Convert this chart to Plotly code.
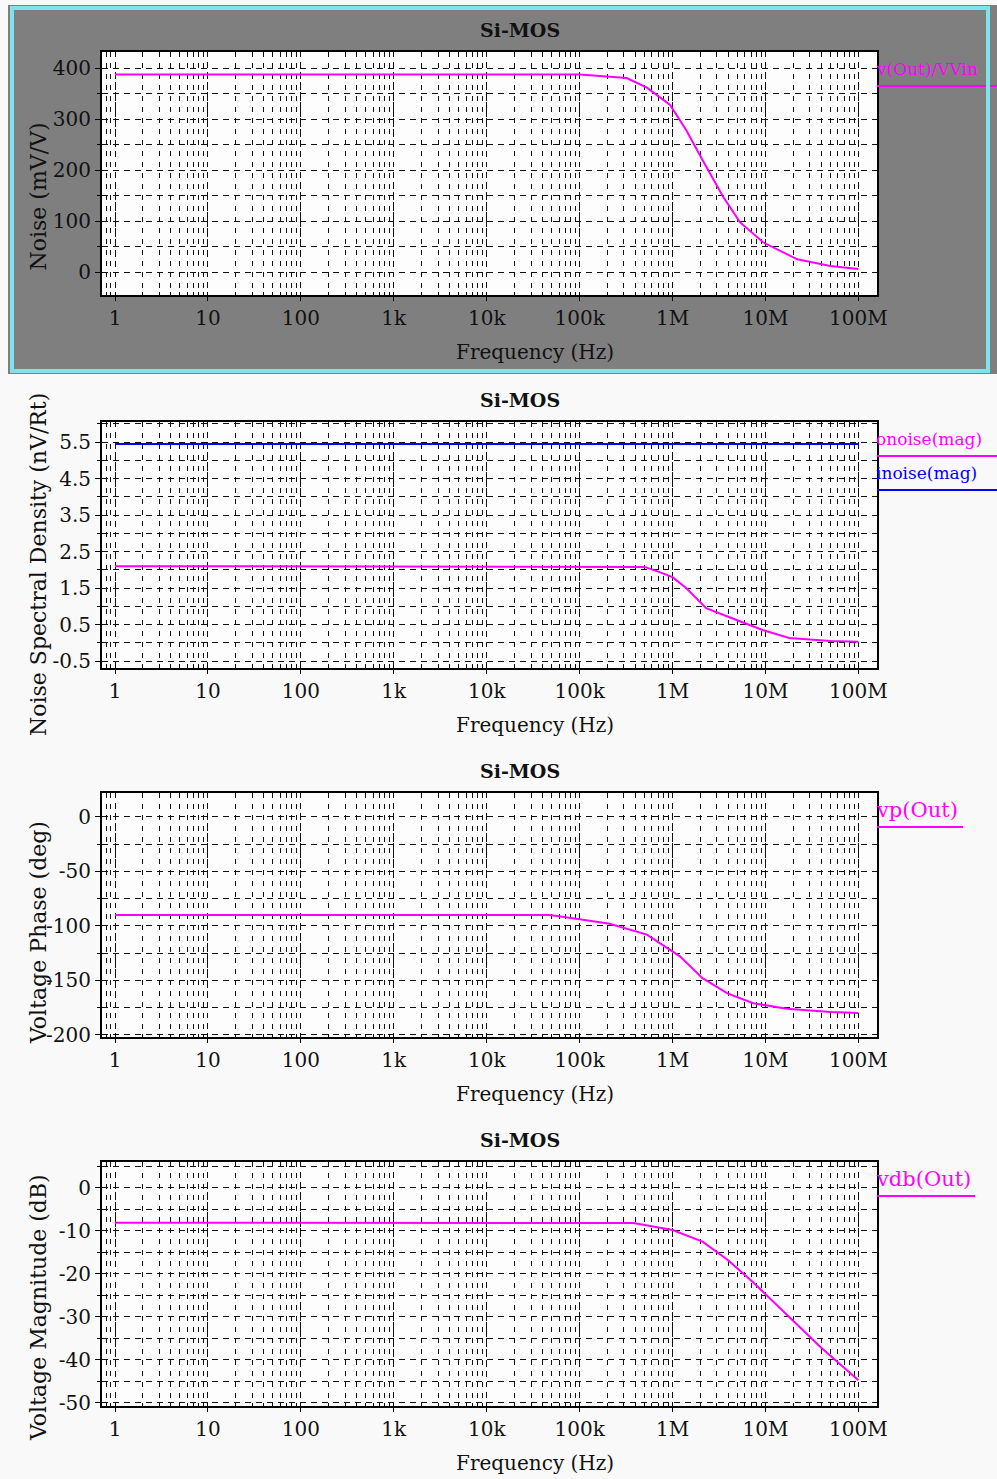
import plotly.graph_objects as go

# ---------------- data ----------------
freq_ticks = [1, 10, 100, 1e3, 1e4, 1e5, 1e6, 1e7, 1e8]
freq_labels = ["1", "10", "100", "1k", "10k", "100k", "1M", "10M", "100M"]

# Panel 1: Noise (mV/V)  v(Out)/VVin
noise_f = [1, 1e3, 1e5, 3.2e5, 5.3e5, 9.4e5, 1.4e6, 2.1e6, 3.5e6, 5.3e6, 9.5e6, 2.2e7, 5e7, 1e8]
noise_v = [388, 388, 388, 381, 362, 328, 279, 220, 148, 98, 58, 25, 12, 6]

# Panel 2: Noise spectral density (nV/Rt)
onoise_f = [1, 1e3, 1e5, 3e5, 5e5, 7e5, 1e6, 1.4e6, 2.3e6, 4.3e6, 9.3e6, 1.8e7, 5e7, 1e8]
onoise_v = [2.1, 2.1, 2.1, 2.1, 2.08, 1.95, 1.8, 1.5, 0.95, 0.68, 0.35, 0.13, 0.05, 0.03]
inoise_f = [1, 1e3, 1e5, 1e8]
inoise_v = [5.45, 5.45, 5.45, 5.45]

# Panel 3: Voltage phase (deg)
phase_f = [1, 1e3, 4.8e4, 1e5, 2.1e5, 5.3e5, 1.2e6, 2.1e6, 3.9e6, 7.4e6, 1.7e7, 5e7, 1e8]
phase_v = [-90, -90, -90, -94, -98, -108, -128, -148, -162, -171, -176, -179, -180]

# Panel 4: Voltage magnitude (dB)
mag_f = [1, 1e3, 1e5, 3.8e5, 1e6, 2.1e6, 3.9e6, 7.4e6, 1.7e7, 3.9e7, 1e8]
mag_v = [-8.1, -8.1, -8.1, -8.2, -9.8, -12.5, -16.7, -22, -29.5, -37, -44.7]

p1_ticks = [0, 100, 200, 300, 400]
p2_ticks = [-0.5, 0.5, 1.5, 2.5, 3.5, 4.5, 5.5]
p3_ticks = [-200, -150, -100, -50, 0]
p4_ticks = [-50, -40, -30, -20, -10, 0]

# ---------------- layout helpers ----------------
W, H = 997, 1479
FONT = "DejaVu Serif"
MAG = "#ff00ff"
BLUE = "#0000ff"
GRID = "#111111"

def px_x(x):
    return x / W

def px_y(y):
    return 1 - y / H

plot_left, plot_right = 102, 877
panels = [  # (top, bottom) in px
    (52, 295),
    (422, 668),
    (793, 1037),
    (1162, 1406),
]
yranges = [[-45, 432], [-0.69, 6.05], [-202, 22], [-50.7, 6]]
yticks = [p1_ticks, p2_ticks, p3_ticks, p4_ticks]
ytext = [[str(v) for v in p1_ticks], [f"{v:g}" for v in p2_ticks],
         [str(v) for v in p3_ticks], [str(v) for v in p4_ticks]]
yminor = [50, 0.5, 25, 5]
ytitles = ["Noise (mV/V)", "Noise Spectral Density (nV/Rt)",
           "Voltage Phase (deg)", "Voltage Magnitude (dB)"]
ytitle_shift = [23, 20, 18, 24]
legend_size = [17, 17, 21, 21]

fig = go.Figure()

series = [
    [(noise_f, noise_v, MAG, "v(Out)/VVin")],
    [(onoise_f, onoise_v, MAG, "onoise(mag)"), (inoise_f, inoise_v, BLUE, "inoise(mag)")],
    [(phase_f, phase_v, MAG, "vp(Out)")],
    [(mag_f, mag_v, MAG, "vdb(Out)")],
]

layout = dict(
    width=W, height=H,
    margin=dict(l=0, r=0, t=0, b=0, autoexpand=False),
    paper_bgcolor="#f9f9f9",
    plot_bgcolor="#fdfdfd",
    showlegend=False,
    font=dict(family=FONT, size=18, color="#111"),
)

shapes = []
annotations = []

# gray panel around first chart
shapes.append(dict(type="rect", xref="paper", yref="paper", layer="below",
                   x0=px_x(8), x1=1.0, y0=px_y(374), y1=px_y(5),
                   fillcolor="#7f7f7f", line=dict(width=0)))
shapes.append(dict(type="rect", xref="paper", yref="paper", layer="below",
                   x0=px_x(plot_left), x1=px_x(plot_right),
                   y0=px_y(panels[0][1]), y1=px_y(panels[0][0]),
                   fillcolor="#fdfdfd", line=dict(width=0)))

for i, (top, bot) in enumerate(panels):
    n = "" if i == 0 else str(i + 1)
    xa = "x" + n
    ya = "y" + n
    for (f, v, c, name) in series[i]:
        fig.add_trace(go.Scatter(x=f, y=v, mode="lines", name=name,
                                 line=dict(color=c, width=2),
                                 xaxis=xa, yaxis=ya))
    layout["xaxis" + n] = dict(
        type="log", range=[-0.14, 8.2], automargin=False,
        domain=[px_x(plot_left), px_x(plot_right)], anchor=ya,
        tickvals=freq_ticks, ticktext=freq_labels,
        ticks="outside", ticklen=4, tickcolor="#000",
        showline=True, mirror=True, linecolor="#000", linewidth=2,
        showgrid=True, gridcolor=GRID, gridwidth=1, griddash="5px,5px",
        minor=dict(dtick="D1", showgrid=True, gridcolor=GRID, gridwidth=1,
                   griddash="5px,6px", ticks="inside", ticklen=3, tickcolor="#000"),
        tickfont=dict(family=FONT, size=20, color="#111"),
        zeroline=False,
    )
    layout["yaxis" + n] = dict(
        range=yranges[i], automargin=False,
        domain=[px_y(bot), px_y(top)], anchor=xa,
        tickvals=yticks[i], ticktext=ytext[i],
        ticks="outside", ticklen=5, tickcolor="#000",
        showline=True, mirror=True, linecolor="#000", linewidth=2,
        showgrid=True, gridcolor=GRID, gridwidth=1, griddash="6px,5px",
        minor=dict(dtick=yminor[i], showgrid=True, gridcolor=GRID, gridwidth=1,
                   griddash="6px,5px", ticks="outside", ticklen=3, tickcolor="#000"),
        tickfont=dict(family=FONT, size=20, color="#111"),
        zeroline=False,
    )
    # title
    annotations.append(dict(text="<b>Si-MOS</b>", xref="paper", yref="paper",
                            x=px_x(520), y=px_y(top - 22), xanchor="center", yanchor="middle",
                            showarrow=False, font=dict(family=FONT, size=19, color="#111")))
    # x title
    annotations.append(dict(text="Frequency (Hz)", xref="paper", yref="paper",
                            x=px_x(535), y=px_y(bot + 57), xanchor="center", yanchor="middle",
                            showarrow=False, font=dict(family=FONT, size=20, color="#111")))
    # y title
    annotations.append(dict(text=ytitles[i], xref="paper", yref="paper",
                            x=px_x(38), y=px_y((top + bot) / 2 + ytitle_shift[i]),
                            xanchor="center", yanchor="middle", textangle=-90,
                            showarrow=False, font=dict(family=FONT, size=22, color="#111")))
    # legend entries (text + underline)
    for k, (f, v, c, name) in enumerate(series[i]):
        ty = top + 17 + k * 34
        annotations.append(dict(text=name, xref="paper", yref="paper",
                                x=px_x(874), y=px_y(ty), xanchor="left", yanchor="middle",
                                showarrow=False, font=dict(family=FONT, size=legend_size[i], color=c)))
        ux1 = 997 if i < 2 else (963 if i == 2 else 975)
        shapes.append(dict(type="line", xref="paper", yref="paper",
                           x0=px_x(877), x1=px_x(ux1), y0=px_y(ty + 17), y1=px_y(ty + 17),
                           line=dict(color=c, width=2)))

# cyan frame of first panel
shapes.append(dict(type="rect", xref="paper", yref="paper", layer="above",
                   x0=px_x(12), x1=px_x(988), y0=px_y(371), y1=px_y(8),
                   fillcolor="rgba(0,0,0,0)", line=dict(color="#7fe3ee", width=4)))

layout["shapes"] = shapes
layout["annotations"] = annotations
fig.update_layout(**layout)
fig.write_html("out.html",
               config={"displayModeBar": False},
               post_script="document.body.style.margin='0';document.body.style.padding='0';")
